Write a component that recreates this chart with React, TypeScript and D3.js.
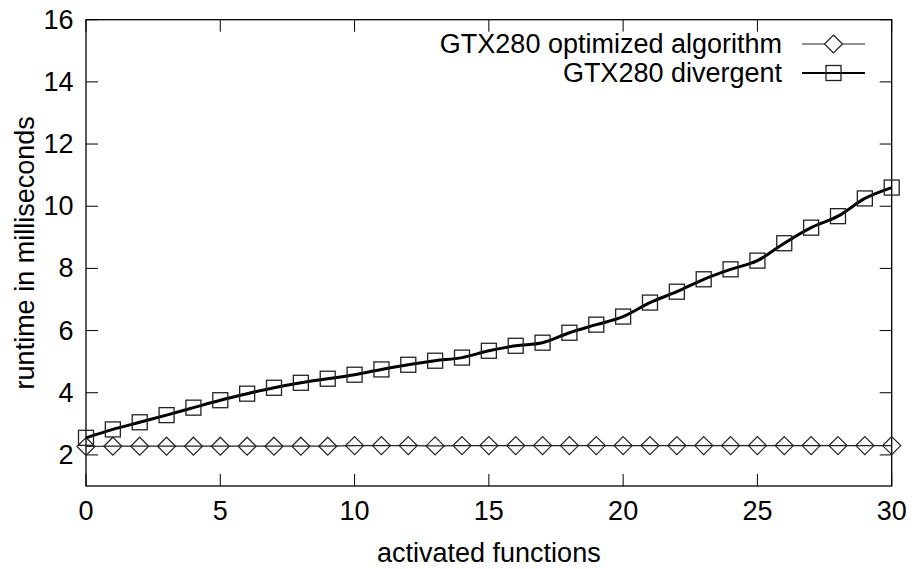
import React from "react";
import * as d3 from "d3";

const xValues: number[] = Array.from({ length: 31 }, (_, i) => i);
const optimized: number[] = [
  2.27, 2.28, 2.28, 2.28, 2.28, 2.28, 2.28, 2.28, 2.28, 2.28, 2.3, 2.3, 2.3, 2.29, 2.3, 2.3,
  2.3, 2.3, 2.3, 2.3, 2.3, 2.3, 2.3, 2.3, 2.3, 2.3, 2.3, 2.3, 2.3, 2.3, 2.3,
];
const divergent: number[] = [
  2.55, 2.82, 3.05, 3.28, 3.52, 3.76, 3.97, 4.16, 4.32, 4.45, 4.58, 4.75, 4.9, 5.03, 5.13, 5.35,
  5.51, 5.61, 5.93, 6.19, 6.45, 6.9, 7.25, 7.65, 7.97, 8.25, 8.81, 9.31, 9.68, 10.25, 10.6,
];
const yTicks: number[] = [2, 4, 6, 8, 10, 12, 14, 16];
const xTicks: number[] = [0, 5, 10, 15, 20, 25, 30];
const seriesNames: string[] = ["GTX280 optimized algorithm", "GTX280 divergent"];

const W = 914;
const H = 569;
const FONT = "'Liberation Sans', Arial, Helvetica, sans-serif";
const FS = 27;

export default function App() {
  const x = d3.scaleLinear().domain([0, 30]).range([86, 891.7]);
  const y = d3.scaleLinear().domain([1, 16]).range([486, 19.7]);
  const [x0, x1] = x.range();
  const [y0, y1] = y.range();
  const tl = 12;

  const lineOpt = d3
    .line<number>()
    .x((_, i) => x(xValues[i]))
    .y((d) => y(d));
  const lineDiv = d3
    .line<number>()
    .x((_, i) => x(xValues[i]))
    .y((d) => y(d))
    .curve(d3.curveMonotoneX);

  const diamond = (cx: number, cy: number, r: number) =>
    `M${cx},${cy - r}L${cx + r},${cy}L${cx},${cy + r}L${cx - r},${cy}Z`;
  const dr = 9;
  const sq = 7.5;

  const legX0 = 802;
  const legX1 = 865;
  const legMid = (legX0 + legX1) / 2;
  const legTextX = 782;
  const legY = [44, 73];

  return (
    <svg
      width={W}
      height={H}
      style={{ position: "absolute", left: 0, top: 0, background: "#fff" }}
      fontFamily={FONT}
    >
      <rect x={0} y={0} width={W} height={H} fill="#fff" />
      {/* ticks */}
      {yTicks.map((t) => (
        <g key={"y" + t}>
          <line x1={x0} x2={x0 + tl} y1={y(t)} y2={y(t)} stroke="#000" strokeWidth={1} />
          <line x1={x1} x2={x1 - tl} y1={y(t)} y2={y(t)} stroke="#000" strokeWidth={1} />
          <text x={73.5} y={y(t)} fontSize={FS} textAnchor="end" dominantBaseline="central" fill="#000">
            {t}
          </text>
        </g>
      ))}
      {xTicks.map((t) => (
        <g key={"x" + t}>
          <line x1={x(t)} x2={x(t)} y1={y0} y2={y0 - tl} stroke="#000" strokeWidth={1} />
          <line x1={x(t)} x2={x(t)} y1={y1} y2={y1 + tl} stroke="#000" strokeWidth={1} />
          <text x={x(t)} y={511} fontSize={FS} textAnchor="middle" dominantBaseline="central" fill="#000">
            {t}
          </text>
        </g>
      ))}
      {/* border */}
      <rect x={x0} y={y1} width={x1 - x0} height={y0 - y1} fill="none" stroke="#000" strokeWidth={1.3} />

      {/* axis labels */}
      <text x={(x0 + x1) / 2} y={553} fontSize={FS} textAnchor="middle" dominantBaseline="central" fill="#000">
        activated functions
      </text>
      <text
        transform={`translate(25,${(y0 + y1) / 2}) rotate(-90)`}
        fontSize={FS}
        textAnchor="middle"
        dominantBaseline="central"
        fill="#000"
      >
        runtime in milliseconds
      </text>

      {/* optimized series */}
      <path d={lineOpt(optimized) || ""} fill="none" stroke="#222" strokeWidth={1.2} />
      {optimized.map((v, i) => (
        <path key={"d" + i} d={diamond(x(xValues[i]), y(v), dr)} fill="none" stroke="#222" strokeWidth={1.2} />
      ))}

      {/* divergent series */}
      <path d={lineDiv(divergent) || ""} fill="none" stroke="#000" strokeWidth={3} />
      {divergent.map((v, i) => (
        <rect
          key={"s" + i}
          x={x(xValues[i]) - sq}
          y={y(v) - sq}
          width={sq * 2}
          height={sq * 2}
          fill="none"
          stroke="#222"
          strokeWidth={1.3}
        />
      ))}

      {/* legend */}
      <text x={legTextX} y={legY[0]} fontSize={FS} textAnchor="end" dominantBaseline="central" fill="#000">
        {seriesNames[0]}
      </text>
      <line x1={legX0} x2={legX1} y1={legY[0]} y2={legY[0]} stroke="#222" strokeWidth={1.2} />
      <path d={diamond(legMid, legY[0], dr)} fill="#fff" stroke="#222" strokeWidth={1.2} />
      <text x={legTextX} y={legY[1]} fontSize={FS} textAnchor="end" dominantBaseline="central" fill="#000">
        {seriesNames[1]}
      </text>
      <line x1={legX0} x2={legX1} y1={legY[1]} y2={legY[1]} stroke="#000" strokeWidth={2} />
      <rect x={legMid - sq} y={legY[1] - sq} width={sq * 2} height={sq * 2} fill="none" stroke="#222" strokeWidth={1.3} />
    </svg>
  );
}
